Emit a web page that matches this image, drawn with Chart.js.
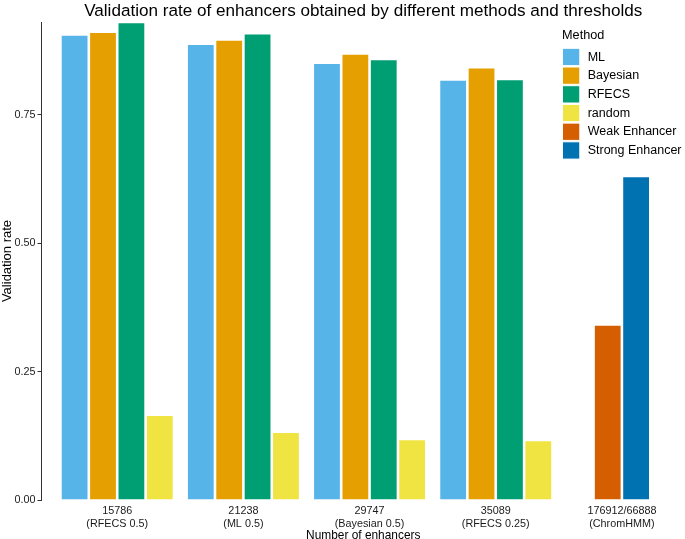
<!DOCTYPE html>
<html>
<head>
<meta charset="utf-8">
<script src="https://cdn.jsdelivr.net/npm/chart.js@4.4.1/dist/chart.umd.min.js"></script>
<style>
  html, body { margin: 0; padding: 0; background: #fff; }
  #wrap { width: 685px; height: 539px; position: relative; }
</style>
</head>
<body>
<div id="wrap"><canvas id="c"></canvas></div>
<script>
// ---- data ----
const categories = [
  ["15786", "(RFECS 0.5)"],
  ["21238", "(ML 0.5)"],
  ["29747", "(Bayesian 0.5)"],
  ["35089", "(RFECS 0.25)"],
  ["176912/66888", "(ChromHMM)"]
];
const mlValues       = [0.907, 0.889, 0.852, 0.819, null];
const bayesianValues = [0.912, 0.897, 0.870, 0.843, null];
const rfecsValues    = [0.931, 0.909, 0.859, 0.820, null];
const randomValues   = [0.166, 0.133, 0.119, 0.117, null];
const weakValues     = [null, null, null, null, 0.342];
const strongValues   = [null, null, null, null, 0.631];
const yTickValues    = [0, 0.25, 0.5, 0.75];

const FONT = '"Liberation Sans", Arial, Helvetica, sans-serif';

function toPoints(arr) { return arr.map((v, i) => ({ x: i, y: v })); }

const seriesDefs = [
  { label: 'ML',              values: mlValues,       color: '#56B4E9', stack: 's0' },
  { label: 'Bayesian',        values: bayesianValues, color: '#E69F00', stack: 's1' },
  { label: 'RFECS',           values: rfecsValues,    color: '#009E73', stack: 's2' },
  { label: 'random',          values: randomValues,   color: '#F0E442', stack: 's3' },
  { label: 'Weak Enhancer',   values: weakValues,     color: '#D55E00', stack: 's1' },
  { label: 'Strong Enhancer', values: strongValues,   color: '#0072B2', stack: 's2' }
];

const allValues = [].concat(mlValues, bayesianValues, rfecsValues, randomValues, weakValues, strongValues)
  .filter(v => v !== null);
const yMax = Math.max(...allValues);

const datasets = seriesDefs.map(s => ({
  label: s.label,
  data: toPoints(s.values),
  backgroundColor: s.color,
  borderColor: '#ffffff',
  borderWidth: 1.3,
  stack: s.stack,
  categoryPercentage: 0.9,
  barPercentage: 1.0,
  clip: false
}));

// legend drawn in the top-right, ggplot style
const methodLegend = {
  id: 'methodLegend',
  afterDraw(chart) {
    const ctx = chart.ctx;
    ctx.save();
    ctx.fillStyle = '#000';
    ctx.font = '12.7px ' + FONT;
    ctx.textBaseline = 'alphabetic';
    ctx.textAlign = 'left';
    ctx.fillText('Method', 562, 39);
    ctx.font = '12.5px ' + FONT;
    ctx.textBaseline = 'middle';
    chart.data.datasets.forEach((ds, i) => {
      const y = 48.3 + i * 18.7;
      ctx.fillStyle = ds.backgroundColor;
      ctx.fillRect(562.5, y, 17.3, 17.3);
      ctx.strokeStyle = '#ffffff';
      ctx.lineWidth = 1;
      ctx.strokeRect(562.5, y, 17.3, 17.3);
      ctx.fillStyle = '#000';
      ctx.fillText(ds.label, 587.7, y + 8.8);
    });
    ctx.restore();
  }
};

// center title over the plotting panel
const panelTitle = {
  id: 'panelTitle',
  afterLayout(chart) {
    const t = chart.titleBlock;
    if (t) { t.left = chart.chartArea.left; t.right = chart.chartArea.right; }
  }
};

new Chart(document.getElementById('c'), {
  type: 'bar',
  data: { datasets },
  plugins: [methodLegend, panelTitle],
  options: {
    responsive: true,
    maintainAspectRatio: false,
    animation: false,
    layout: { padding: 0 },
    plugins: {
      legend: { display: false },
      tooltip: { enabled: false },
      title: {
        display: true,
        text: 'Validation rate of enhancers obtained by different methods and thresholds',
        color: '#000',
        font: { family: FONT, size: 17.1, weight: 'normal', lineHeight: 1.2 },
        padding: { top: 1, bottom: 0.5 }
      }
    },
    scales: {
      x: {
        type: 'linear',
        stacked: true,
        offset: false,
        min: -0.6,
        max: 4.5,
        afterBuildTicks: axis => { axis.ticks = categories.map((_, i) => ({ value: i })); },
        afterFit: axis => { axis.height = 39; },
        grid: { display: false, drawTicks: false },
        border: { display: false },
        ticks: {
          autoSkip: false,
          maxRotation: 0,
          minRotation: 0,
          padding: 5,
          color: '#1a1a1a',
          font: { family: FONT, size: 10.8, lineHeight: 1.15 },
          callback: (v) => categories[v]
        },
        title: {
          display: true,
          text: 'Number of enhancers',
          color: '#000',
          font: { family: FONT, size: 11.9, lineHeight: 1.2 },
          padding: { top: 0, bottom: -4 }
        }
      },
      y: {
        stacked: true,
        min: 0,
        max: yMax,
        afterBuildTicks: axis => { axis.ticks = yTickValues.map(v => ({ value: v })); },
        afterFit: axis => { axis.width = 41.5; },
        grid: { drawOnChartArea: false, drawTicks: true, tickLength: 4, color: '#333', lineWidth: 1 },
        border: { display: true, color: '#333', width: 1 },
        ticks: {
          padding: 2,
          color: '#1a1a1a',
          font: { family: FONT, size: 10.8 },
          callback: v => Number(v).toFixed(2)
        },
        title: {
          display: true,
          text: 'Validation rate',
          color: '#000',
          font: { family: FONT, size: 13, lineHeight: 1.2 },
          padding: { top: 0, bottom: 0 }
        }
      }
    }
  }
});
</script>
</body>
</html>
